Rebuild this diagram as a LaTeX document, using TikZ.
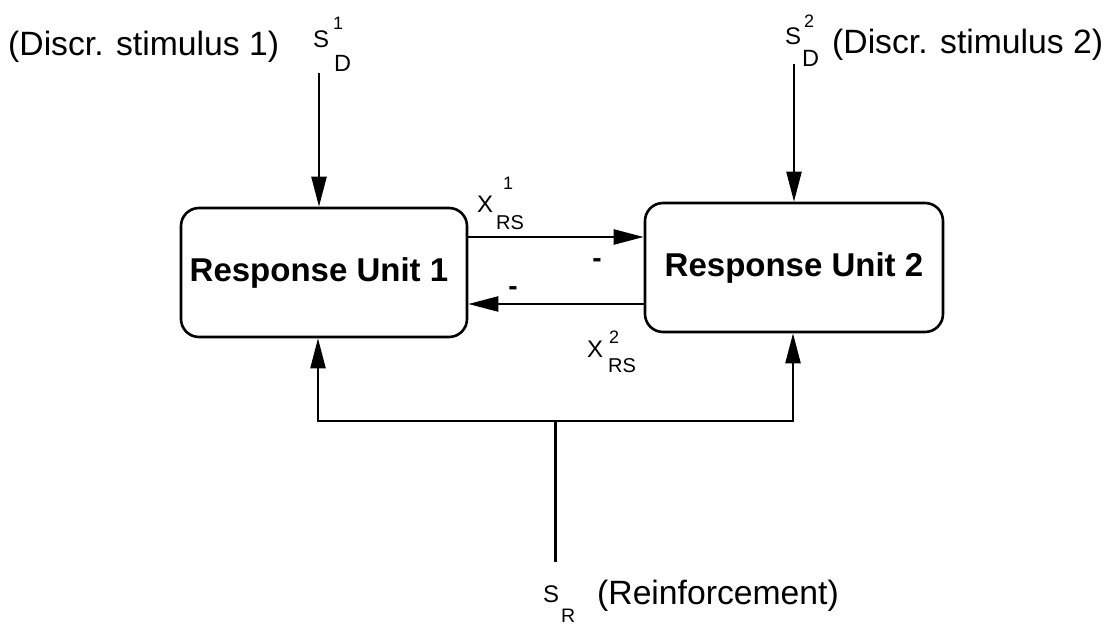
\documentclass[tikz,border=0pt]{standalone}
\usepackage{fontspec}
\setmainfont{Liberation Sans}
\usetikzlibrary{arrows.meta}
\begin{document}
\begin{tikzpicture}[x=1pt,y=-1pt,
  unitbox/.style={draw, line width=2.6pt, rounded corners=18pt, inner sep=0pt,
    font=\fontsize{33}{40}\selectfont\bfseries},
  wire/.style={line width=2.3pt},
  feed/.style={wire, -{Triangle[length=30pt,width=15pt]}},
  big/.style={inner sep=0pt, anchor=base west, font=\fontsize{33.7}{40}\selectfont},
  sym/.style={inner sep=0pt, anchor=base west, font=\fontsize{24}{28}\selectfont},
  low/.style={inner sep=0pt, anchor=base west, font=\fontsize{23.5}{28}\selectfont},
  idx/.style={inner sep=0pt, anchor=base west, font=\fontsize{18}{22}\selectfont},
  sign/.style={inner sep=0pt, anchor=base, font=\fontsize{28}{32}\selectfont\bfseries},
  ]
\fill[white] (0,0) rectangle (1111,628);
\useasboundingbox (0,0) rectangle (1111,628);

% the two response units
\node[unitbox, minimum width=286pt, minimum height=129pt] (u1) at (324,272.5) {\hspace*{-10pt}Response Unit 1};
\node[unitbox, minimum width=298pt, minimum height=129pt] (u2) at (794,267.5) {Response Unit 2};

% discriminative stimuli entering from above
\coordinate (d1) at (319,73);
\coordinate (d2) at (794,64);
\draw[feed] (d1) -- (d1 |- u1.north);
\draw[feed] (d2) -- (d2 |- u2.north);

% mutual inhibition between the units
\coordinate (h1) at (0,237);
\coordinate (h2) at (0,304);
\draw[feed] (u1.east |- h1) -- (u2.west |- h1);
\draw[feed] (u2.west |- h2) -- (u1.east |- h2);

% reinforcement distributed to both units
\coordinate (bl) at (318,421);
\coordinate (br) at (793,421);
\coordinate (bm) at (555.5,421);
\coordinate (rs) at (555.5,562);
\draw[wire] (rs) -- (bm);
\draw[feed] (bm) -- (bl) -- (bl |- u1.south);
\draw[feed] (bm) -- (br) -- (br |- u2.south);

% stimulus labels
\node[big] (t1) at (8,56) {(Discr. stimulus 1)};
\node[sym] (s1) at (313,48) {S};
\node[low] (s1d) at (334,72) {D};
\node[idx] (s1u) at (333,30) {1};

\node[sym] (s2) at (785,45) {S};
\node[low] (s2d) at (802,67) {D};
\node[idx] (s2u) at (804,28) {2};
\node[big] (t2) at (832,54) {(Discr. stimulus 2)};

% inhibition labels
\node[sym] (x1) at (477,213) {X};
\node[idx, font=\fontsize{20}{24}\selectfont] (x1d) at (496,230) {RS};
\node[idx] (x1u) at (503,190) {1};
\node[sign] (m1) at (597,268) {-};
\node[sign] (m2) at (513,296) {-};
\node[sym] (x2) at (587,357) {X};
\node[idx, font=\fontsize{20}{24}\selectfont] (x2d) at (608,372) {RS};
\node[idx] (x2u) at (609,343) {2};

% reinforcement label
\node[sym] (sr) at (543,602) {S};
\node[idx, font=\fontsize{19.5}{24}\selectfont] (srd) at (561,622) {R};
\node[big] (t3) at (597,604) {(Reinforcement)};
\end{tikzpicture}
\end{document}
